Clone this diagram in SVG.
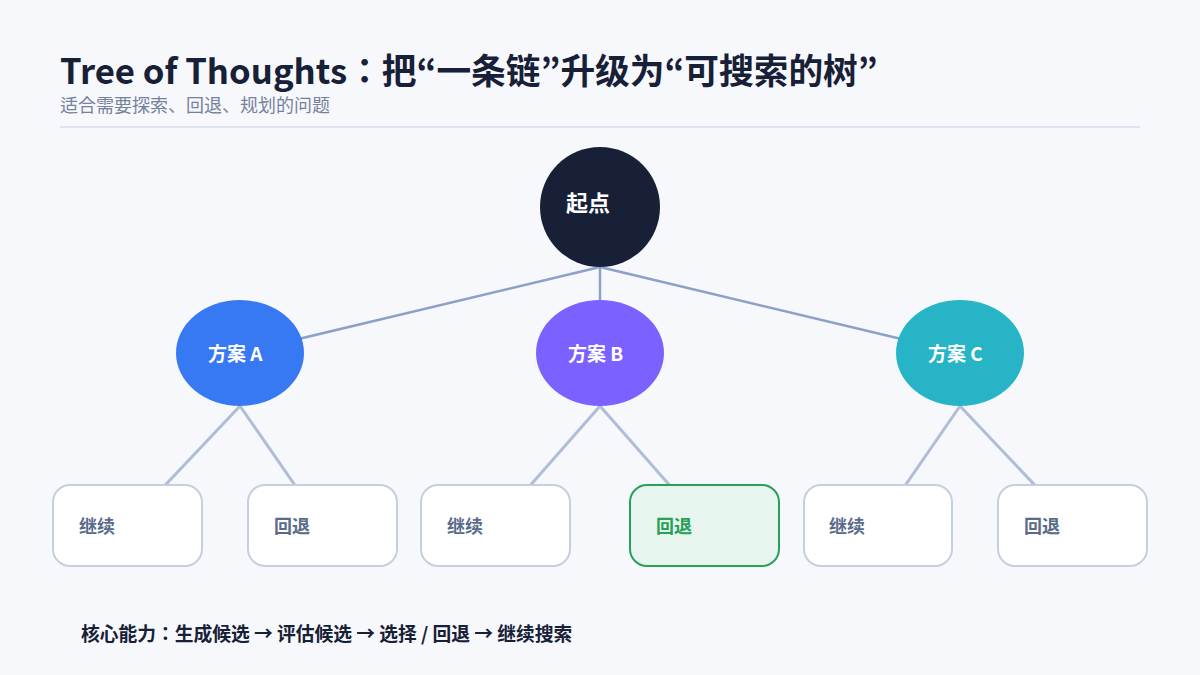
<svg xmlns="http://www.w3.org/2000/svg" width="1200" height="675" viewBox="0 0 1200 675">
<style>
text{font-family:"Noto Sans CJK JP","Noto Sans CJK SC",sans-serif;}
.title{font-size:34.7px;font-weight:700;fill:#172036;}
.sub{font-size:18px;fill:#76829c;}
.ntext{font-size:19px;font-weight:700;fill:#ffffff;}
.leaf rect{fill:#ffffff;stroke:#c5cfe0;stroke-width:2;}
.leaf text{font-size:18px;font-weight:700;fill:#5a6b8a;}
.leaf.hl rect{fill:#e6f6ee;stroke:#27a05a;}
.leaf.hl text{fill:#27a05a;}
.c1{stroke:#8ca0c8;stroke-width:2.5;fill:none;}
.c2{stroke:#b0bdd6;stroke-width:3;fill:none;}
.foot{font-size:18.75px;font-weight:700;fill:#172036;}
</style>
<rect width="1200" height="675" fill="#f6f8fc"/>
<text class="title" x="60" y="84">Tree of Thoughts：把“一条链”升级为“可搜索的树”</text>
<text class="sub" x="60" y="112">适合需要探索、回退、规划的问题</text>
<line x1="60" y1="127" x2="1140" y2="127" stroke="#dfe3ee" stroke-width="2"/>
<g id="connectors">
<line class="c1" x1="600" y1="267" x2="240" y2="353"/>
<line class="c1" x1="600" y1="267" x2="600" y2="353"/>
<line class="c1" x1="600" y1="267" x2="960" y2="353"/>
<line class="c2" x1="240" y1="406" x2="127.5" y2="525"/>
<line class="c2" x1="240" y1="406" x2="322.5" y2="525"/>
<line class="c2" x1="600" y1="406" x2="495.5" y2="525"/>
<line class="c2" x1="600" y1="406" x2="704.5" y2="525"/>
<line class="c2" x1="960" y1="406" x2="878" y2="525"/>
<line class="c2" x1="960" y1="406" x2="1072.5" y2="525"/>
</g>
<g id="root">
<circle cx="600" cy="207" r="60" fill="#172036"/>
<text class="ntext" x="566" y="211" style="font-size:22px">起点</text>
</g>
<g id="planA">
<ellipse cx="240" cy="353" rx="64" ry="53" fill="#3778f3"/>
<text class="ntext" x="208" y="361">方案 A</text>
</g>
<g id="planB">
<ellipse cx="600" cy="353" rx="64" ry="53" fill="#7b61ff"/>
<text class="ntext" x="568" y="361">方案 B</text>
</g>
<g id="planC">
<ellipse cx="960" cy="353" rx="64" ry="53" fill="#27b4c6"/>
<text class="ntext" x="928" y="361">方案 C</text>
</g>
<g id="a1" class="leaf"><rect x="53" y="485" width="149" height="81" rx="17"/><text x="79" y="533">继续</text></g>
<g id="a2" class="leaf"><rect x="248" y="485" width="149" height="81" rx="17"/><text x="274" y="533">回退</text></g>
<g id="b1" class="leaf"><rect x="421" y="485" width="149" height="81" rx="17"/><text x="447" y="533">继续</text></g>
<g id="b2" class="leaf hl"><rect x="630" y="485" width="149" height="81" rx="17"/><text x="656" y="533">回退</text></g>
<g id="c1n" class="leaf"><rect x="804" y="485" width="148" height="81" rx="17"/><text x="829" y="533">继续</text></g>
<g id="c2n" class="leaf"><rect x="998" y="485" width="149" height="81" rx="17"/><text x="1024" y="533">回退</text></g>
<text class="foot" x="81" y="641">核心能力：生成候选 → 评估候选 → 选择 / 回退 → 继续搜索</text>
</svg>
